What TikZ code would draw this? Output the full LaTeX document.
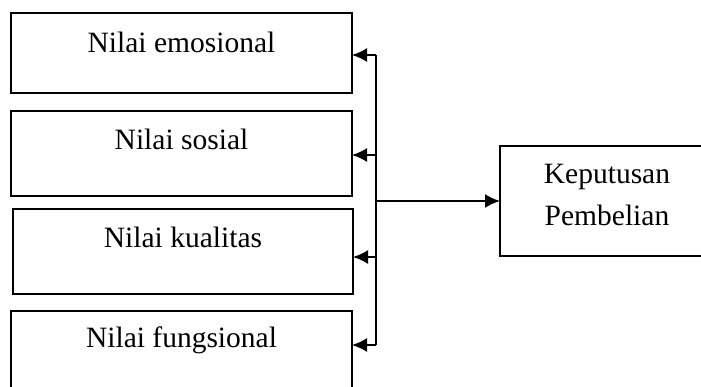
\documentclass[tikz,border=0pt]{standalone}
\usepackage{fontspec}
\setmainfont{Liberation Serif}
\usetikzlibrary{arrows.meta,calc}

\tikzset{
  box/.style={draw, line width=1.7pt, rectangle, inner sep=0pt, outer sep=0pt, anchor=north west},
  lbl/.style={font=\fontsize{29.5}{42}\selectfont, inner sep=0pt, anchor=base},
  link/.style={line width=1.7pt},
  arr/.style={line width=1.7pt, -{Latex[length=15pt,width=14pt]}}
}

\begin{document}
\begin{tikzpicture}[x=1pt,y=-1pt]
  \useasboundingbox (0,0) rectangle (701,386);
  \clip (0,0) rectangle (701,386);

  % the four value boxes
  \node[box, minimum width=341pt, minimum height=80pt] (b1) at (11,13) {};
  \node[box, minimum width=341pt, minimum height=85pt] (b2) at (11,111) {};
  \node[box, minimum width=340pt, minimum height=85pt] (b3) at (13,209) {};
  \node[box, minimum width=341pt, minimum height=85pt] (b4) at (11,311) {};

  \node[lbl] (t1) at ($(b1.north)+(0,39)$) {Nilai emosional};
  \node[lbl] (t2) at ($(b2.north)+(0,38)$) {Nilai sosial};
  \node[lbl] (t3) at ($(b3.north)+(0,38)$) {Nilai kualitas};
  \node[lbl] (t4) at ($(b4.north)+(0,36)$) {Nilai fungsional};

  % decision box (the base anchor sits on the last line)
  \node[box, minimum width=214pt, minimum height=110pt] (kp) at (500,146) {};
  \node[lbl, align=center, anchor=base] (tk) at ($(kp.north)+(0,79)$) {Keputusan\\Pembelian};

  % branching connector
  \coordinate (j1) at (376,55);
  \coordinate (j2) at (376,155);
  \coordinate (j3) at (376,257);
  \coordinate (j4) at (376,345);
  \coordinate (jm) at (376,201);

  \draw[link] (j1) -- (j4);
  \draw[arr] (j1) -- (b1.east |- j1);
  \draw[arr] (j2) -- (b2.east |- j2);
  \draw[arr] (j3) -- (b3.east |- j3);
  \draw[arr] (j4) -- (b4.east |- j4);
  \draw[arr] (jm) -- (kp.west);
\end{tikzpicture}
\end{document}
